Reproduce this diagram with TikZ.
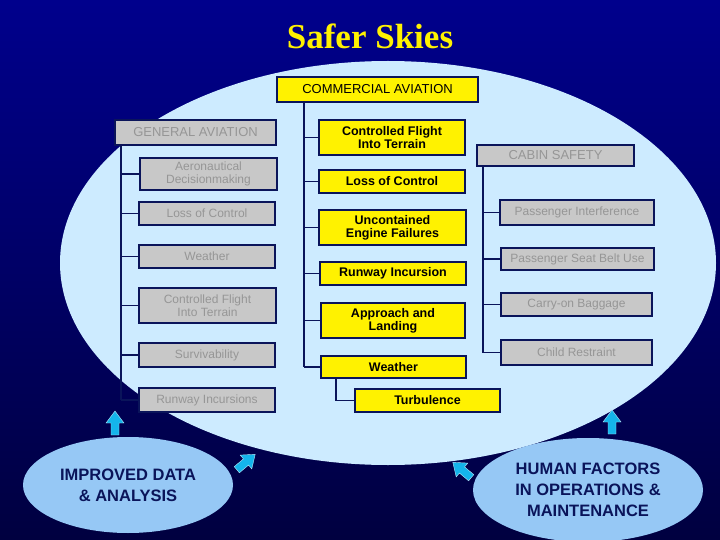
\documentclass[tikz,border=0pt]{standalone}
\usepackage{fontspec}
\usetikzlibrary{shapes.geometric}
\setmainfont{Liberation Serif}
\newfontfamily\ar{Liberation Sans}
\definecolor{ell}{RGB}{205,235,255}
\definecolor{bubc}{RGB}{150,200,245}
\definecolor{arc}{RGB}{20,180,235}
\definecolor{gfill}{RGB}{200,200,200}
\definecolor{gtext}{RGB}{150,150,150}
\definecolor{navy}{RGB}{10,20,90}
\begin{document}
\begin{tikzpicture}[x=1pt,y=-1pt,
  yb/.style={draw=navy,line width=1.5pt,fill=yellow,text=black,font=\ar\bfseries\fontsize{12.5}{13}\selectfont,align=center,inner sep=0pt},
  gb/.style={draw=navy,line width=1.5pt,fill=gfill,text=gtext,font=\ar\fontsize{12}{12.5}\selectfont,align=center,inner sep=0pt},
  tr/.style={draw=navy,line width=1.5pt},
  bub/.style={ellipse,fill=bubc,draw=none,text=navy,font=\ar\bfseries\fontsize{16.5}{21}\selectfont,align=center},
  arw/.style={fill=arc,draw=white!70!arc,line width=0.4pt}]
\useasboundingbox (0,0) rectangle (720,540);
\shade[top color=blue!55!black, bottom color=blue!25!black] (0,0) rectangle (720,540);
\fill[ell] (388,263) ellipse [x radius=328, y radius=202];
\node[text=yellow,font=\bfseries\fontsize{35}{35}\selectfont] (title) at (370,36) {Safer Skies};
% commercial
\node[yb,font=\ar\fontsize{13}{14}\selectfont,minimum width=201,minimum height=25] (ca) at (377.5,89.5) {COMMERCIAL AVIATION};
\node[yb,minimum width=146,minimum height=35] (c1) at (392,137.5) {Controlled Flight\\Into Terrain};
\node[yb,minimum width=146,minimum height=23] (c2) at (392,181.5) {Loss of Control};
\node[yb,minimum width=147,minimum height=35] (c3) at (392.5,227.5) {Uncontained\\Engine Failures};
\node[yb,minimum width=146,minimum height=23] (c4) at (393,273.5) {Runway Incursion};
\node[yb,minimum width=144,minimum height=35] (c5) at (393,320.5) {Approach and\\Landing};
\node[yb,minimum width=145,minimum height=22] (c6) at (393.5,367) {Weather};
\node[yb,minimum width=145,minimum height=23] (c7) at (427.5,400.5) {Turbulence};
\coordinate (ct) at (304,102);
\draw[tr] (ct) -- (304,367);
\foreach \n in {c1,c2,c3,c4,c5,c6} \draw[tr] (\n.west) -- (304,0 |- \n.west);
\draw[tr] (336,378) |- (c7.west);
% general
\node[gb,font=\ar\fontsize{13}{14}\selectfont,minimum width=161,minimum height=25] (ga) at (195.5,132.5) {GENERAL AVIATION};
\node[gb,minimum width=137,minimum height=32] (g1) at (208.5,174) {Aeronautical\\Decisionmaking};
\node[gb,minimum width=136,minimum height=23] (g2) at (207,213.5) {Loss of Control};
\node[gb,minimum width=136,minimum height=23] (g3) at (207,256.5) {Weather};
\node[gb,minimum width=137,minimum height=35] (g4) at (207.5,305.5) {Controlled Flight\\Into Terrain};
\node[gb,minimum width=136,minimum height=24] (g5) at (207,355) {Survivability};
\node[gb,minimum width=136,minimum height=24] (g6) at (207,400) {Runway Incursions};
\draw[tr] (121,145) -- (121,400);
\foreach \n in {g1,g2,g3,g4,g5,g6} \draw[tr] (\n.west) -- (121,0 |- \n.west);
% cabin
\node[gb,font=\ar\fontsize{13}{14}\selectfont,minimum width=157,minimum height=21] (cs) at (555.5,155.5) {CABIN SAFETY};
\node[gb,minimum width=154,minimum height=25] (s1) at (577,212.5) {Passenger Interference};
\node[gb,minimum width=153,minimum height=22] (s2) at (577.5,259) {Passenger Seat Belt Use};
\node[gb,minimum width=151,minimum height=23] (s3) at (576.5,304.5) {Carry-on Baggage};
\node[gb,minimum width=151,minimum height=25] (s4) at (576.5,352.5) {Child Restraint};
\draw[tr] (483,166) -- (483,353);
\foreach \n in {s1,s2,s3,s4} \draw[tr] (\n.west) -- (483,0 |- \n.west);
% bubbles
\node[bub,minimum width=210,minimum height=96] (b1) at (128,485) {IMPROVED DATA\\\& ANALYSIS};
\node[bub,minimum width=230,minimum height=104] (b2) at (588,490) {HUMAN FACTORS\\IN OPERATIONS \&\\MAINTENANCE};
% arrows
\foreach \p/\r in {{(115,423)}/0,{(612,422)}/0,{(246,462)}/-50,{(462,470)}/50}
  \filldraw[arw,shift={\p},rotate=\r] (-4,12) -- (-4,0) -- (-9,0) -- (0,-12) -- (9,0) -- (4,0) -- (4,12) -- cycle;
\end{tikzpicture}
\end{document}
